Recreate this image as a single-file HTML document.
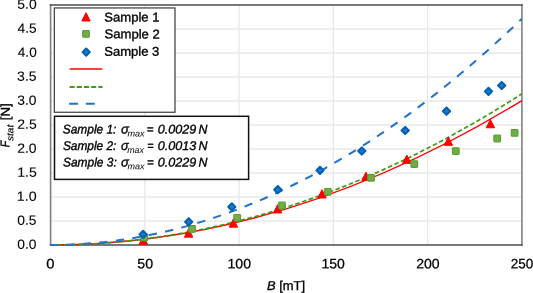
<!DOCTYPE html>
<html><head><meta charset="utf-8"><style>
html,body{margin:0;padding:0;background:#fff;}
body{width:533px;height:293px;overflow:hidden;}
svg{display:block;font-family:"Liberation Sans",sans-serif;will-change:transform;text-rendering:geometricPrecision;}
</style></head><body>
<svg width="533" height="293" viewBox="0 0 533 293">
<rect width="533" height="293" fill="#fff"/>
<g stroke="#e8e8e8" stroke-width="1.3" fill="none">
<line x1="50.6" y1="221.0" x2="521.9" y2="221.0"/>
<line x1="50.6" y1="197.0" x2="521.9" y2="197.0"/>
<line x1="50.6" y1="173.0" x2="521.9" y2="173.0"/>
<line x1="50.6" y1="149.0" x2="521.9" y2="149.0"/>
<line x1="50.6" y1="125.0" x2="521.9" y2="125.0"/>
<line x1="50.6" y1="101.0" x2="521.9" y2="101.0"/>
<line x1="50.6" y1="77.0" x2="521.9" y2="77.0"/>
<line x1="50.6" y1="53.0" x2="521.9" y2="53.0"/>
<line x1="50.6" y1="29.0" x2="521.9" y2="29.0"/>
<line x1="144.86" y1="5.0" x2="144.86" y2="245.0"/>
<line x1="239.12" y1="5.0" x2="239.12" y2="245.0"/>
<line x1="333.38" y1="5.0" x2="333.38" y2="245.0"/>
<line x1="427.64" y1="5.0" x2="427.64" y2="245.0"/>
</g>
<g font-size="13.6" fill="#000" text-anchor="end" stroke="#000" stroke-width="0.1">
<text id="y0" x="36.57" y="248.77" textLength="19.2" lengthAdjust="spacingAndGlyphs" transform="rotate(0.05 36.57 248.77)" font-size="13.35">0.0</text>
<text id="y1" x="36.56" y="224.77" textLength="19.29" lengthAdjust="spacingAndGlyphs" transform="rotate(0.05 36.56 224.77)" font-size="13.35">0.5</text>
<text id="y2" x="36.59" y="200.77" textLength="19.73" lengthAdjust="spacingAndGlyphs" transform="rotate(0.05 36.59 200.77)" font-size="13.35">1.0</text>
<text id="y3" x="36.85" y="176.77" textLength="19.69" lengthAdjust="spacingAndGlyphs" transform="rotate(0.05 36.85 176.77)" font-size="13.35">1.5</text>
<text id="y4" x="36.54" y="152.77" textLength="19.38" lengthAdjust="spacingAndGlyphs" transform="rotate(0.05 36.54 152.77)" font-size="13.35">2.0</text>
<text id="y5" x="36.66" y="128.77" textLength="19.42" lengthAdjust="spacingAndGlyphs" transform="rotate(0.05 36.66 128.77)" font-size="13.35">2.5</text>
<text id="y6" x="36.52" y="104.77" textLength="19.24" lengthAdjust="spacingAndGlyphs" transform="rotate(0.05 36.52 104.77)" font-size="13.35">3.0</text>
<text id="y7" x="36.66" y="80.77" textLength="19.56" lengthAdjust="spacingAndGlyphs" transform="rotate(0.05 36.66 80.77)" font-size="13.35">3.5</text>
<text id="y8" x="36.73" y="56.77" textLength="18.91" lengthAdjust="spacingAndGlyphs" transform="rotate(0.05 36.73 56.77)" font-size="13.35">4.0</text>
<text id="y9" x="36.64" y="32.77" textLength="19.14" lengthAdjust="spacingAndGlyphs" transform="rotate(0.05 36.64 32.77)" font-size="13.35">4.5</text>
<text id="y10" x="36.65" y="8.77" textLength="19.36" lengthAdjust="spacingAndGlyphs" transform="rotate(0.05 36.65 8.77)" font-size="13.35">5.0</text>
</g>
<g font-size="13.6" fill="#000" text-anchor="middle" stroke="#000" stroke-width="0.25">
<text id="x0" x="50.27" y="268.35" textLength="8.22" lengthAdjust="spacingAndGlyphs" transform="rotate(0.05 50.27 268.35)" font-size="13.5">0</text>
<text id="x50" x="145.23" y="268.35" textLength="15.8" lengthAdjust="spacingAndGlyphs" transform="rotate(0.05 145.23 268.35)" font-size="13.5">50</text>
<text id="x100" x="239.24" y="268.35" textLength="23.46" lengthAdjust="spacingAndGlyphs" transform="rotate(0.05 239.24 268.35)" font-size="13.5">100</text>
<text id="x150" x="333.12" y="268.35" textLength="23.37" lengthAdjust="spacingAndGlyphs" transform="rotate(0.05 333.12 268.35)" font-size="13.5">150</text>
<text id="x200" x="427.97" y="268.35" textLength="23.46" lengthAdjust="spacingAndGlyphs" transform="rotate(0.05 427.97 268.35)" font-size="13.5">200</text>
<text id="x250" x="521.90" y="268.35" transform="rotate(0.05 521.90 268.35)" font-size="13.5">250</text>
</g>
<g font-size="12.9" fill="#000" stroke="#000" stroke-width="0.35">
<text id="xt" x="267.0" y="290"><tspan font-style="italic">B</tspan> [mT]</text>
<text id="ytF" transform="translate(9.56,147.14) rotate(-89.95)" font-style="italic" textLength="6.45" lengthAdjust="spacingAndGlyphs">F</text>
<text id="yts" transform="translate(13.35,140.97) rotate(-89.95)" font-style="italic" font-size="9" stroke-width="0.15" textLength="16.19" lengthAdjust="spacingAndGlyphs">stat</text>
<text id="ytN" transform="translate(9.71,120.25) rotate(-89.95)" textLength="16.88" lengthAdjust="spacingAndGlyphs">[N]</text>
</g>
<g fill="none" stroke-width="1.6">
<line x1="50.6" y1="4.2" x2="50.6" y2="245.8" stroke="#7f7f7f"/>
<line x1="521.9" y1="4.2" x2="521.9" y2="245.8" stroke="#7f7f7f"/>
<line x1="49.800000000000004" y1="5.0" x2="522.6999999999999" y2="5.0" stroke="#4d4d4d"/>
<line x1="49.800000000000004" y1="245.0" x2="522.6999999999999" y2="245.0" stroke="#4d4d4d"/>
</g>
<g fill="none" stroke-width="2">
<path d="M50.6,245.0Q286.25,245.0 521.9,100.52" stroke="#ff0000" stroke-width="1.45"/>
<path d="M50.6,245.0Q286.25,245.0 521.9,93.80" stroke="#3f9a14" stroke-width="1.7" stroke-dasharray="4.5 2.63" stroke-dashoffset="0.44"/>
<path d="M50.6,245.0Q286.25,245.0 521.9,18.68" stroke="#2372cd" stroke-width="2.0" stroke-dasharray="8.4 8.28" stroke-dashoffset="1.28"/>
</g>
<g fill="#ff0000" stroke="#ff0000" stroke-width="1" stroke-linejoin="round"><path d="M143.30,236.05L147.50,244.35L139.10,244.35Z"/><path d="M188.60,228.85L192.80,237.15L184.40,237.15Z"/><path d="M233.40,218.85L237.60,227.15L229.20,227.15Z"/><path d="M277.60,204.65L281.80,212.95L273.40,212.95Z"/><path d="M322.00,189.65L326.20,197.95L317.80,197.95Z"/><path d="M366.00,172.15L370.20,180.45L361.80,180.45Z"/><path d="M406.80,155.05L411.00,163.35L402.60,163.35Z"/><path d="M448.40,137.05L452.60,145.35L444.20,145.35Z"/><path d="M490.40,119.45L494.60,127.75L486.20,127.75Z"/></g>
<g fill="#70ad47" stroke="#5a9f35" stroke-width="1.2" stroke-linejoin="round"><rect x="141.00" y="234.20" width="6.60" height="6.60" rx="0.8"/><rect x="188.80" y="225.60" width="6.60" height="6.60" rx="0.8"/><rect x="233.90" y="214.50" width="6.60" height="6.60" rx="0.8"/><rect x="278.70" y="202.20" width="6.60" height="6.60" rx="0.8"/><rect x="324.50" y="188.50" width="6.60" height="6.60" rx="0.8"/><rect x="367.70" y="174.50" width="6.60" height="6.60" rx="0.8"/><rect x="411.00" y="160.80" width="6.60" height="6.60" rx="0.8"/><rect x="452.50" y="147.80" width="6.60" height="6.60" rx="0.8"/><rect x="493.90" y="135.20" width="6.60" height="6.60" rx="0.8"/><rect x="511.30" y="129.60" width="6.60" height="6.60" rx="0.8"/></g>
<g fill="#1d7acb" stroke="#0060b4" stroke-width="2.0" stroke-linejoin="round"><path d="M143.10,230.75L146.75,234.40L143.10,238.05L139.45,234.40Z"/><path d="M188.70,218.25L192.35,221.90L188.70,225.55L185.05,221.90Z"/><path d="M231.80,203.25L235.45,206.90L231.80,210.55L228.15,206.90Z"/><path d="M277.80,186.05L281.45,189.70L277.80,193.35L274.15,189.70Z"/><path d="M320.00,166.75L323.65,170.40L320.00,174.05L316.35,170.40Z"/><path d="M361.80,147.35L365.45,151.00L361.80,154.65L358.15,151.00Z"/><path d="M405.20,126.85L408.85,130.50L405.20,134.15L401.55,130.50Z"/><path d="M446.50,107.55L450.15,111.20L446.50,114.85L442.85,111.20Z"/><path d="M488.50,87.75L492.15,91.40L488.50,95.05L484.85,91.40Z"/><path d="M501.70,81.85L505.35,85.50L501.70,89.15L498.05,85.50Z"/></g>
<rect x="54.3" y="7.95" width="120.7" height="104.3" fill="#fff" stroke="#333" stroke-width="1.15"/>
<g transform="translate(86,16.85) scale(1.0) translate(-86,-16.85)"><path d="M86.00,12.70L90.20,21.00L81.80,21.00Z" fill="#ff0000" stroke="#ff0000" stroke-width="1" stroke-linejoin="round"/></g>
<g transform="translate(86,33.95) scale(1.0) translate(-86,-33.95)"><rect x="82.70" y="30.65" width="6.60" height="6.60" rx="0.8" fill="#70ad47" stroke="#5a9f35" stroke-width="1.2" stroke-linejoin="round"/></g>
<path d="M86.20,48.45L89.85,52.10L86.20,55.75L82.55,52.10Z" fill="#1d7acb" stroke="#0060b4" stroke-width="2.0" stroke-linejoin="round"/>
<g font-size="12.8" fill="#000" stroke="#000" stroke-width="0.35">
<text id="l1" x="104.34" y="21.44" textLength="55.15" lengthAdjust="spacingAndGlyphs" transform="rotate(0.05 104.34 21.44)">Sample 1</text>
<text id="l2" x="104.49" y="38.37" textLength="55.32" lengthAdjust="spacingAndGlyphs" transform="rotate(0.05 104.49 38.37)">Sample 2</text>
<text id="l3" x="104.24" y="55.78" textLength="55.11" lengthAdjust="spacingAndGlyphs" transform="rotate(0.05 104.24 55.78)">Sample 3</text>
</g>
<g stroke-width="2" fill="none">
<line x1="69.7" y1="69.1" x2="102.3" y2="69.1" stroke="#ff0000" stroke-width="1.5"/>
<line x1="69.6" y1="87" x2="102.5" y2="87" stroke="#3f9a14" stroke-dasharray="5 2.2"/>
<line x1="69.1" y1="103.7" x2="102.5" y2="103.7" stroke="#2372cd" stroke-dasharray="9 7.7"/>
</g>
<rect x="54.5" y="116.3" width="194.1" height="63.1" fill="#fff" stroke="#111" stroke-width="1.5"/>
<g font-size="12.6" font-style="italic" fill="#000" stroke="#000" stroke-width="0.35">
<text id="bs0" x="62.80" y="133.55" textLength="53.58" lengthAdjust="spacingAndGlyphs" transform="rotate(0.05 62.80 133.55)">Sample 1:</text>
<text id="bg0" x="120.90" y="133.55" textLength="7.87" lengthAdjust="spacingAndGlyphs" transform="rotate(0.05 120.90 133.55)" font-style="italic" font-weight="normal" font-size="13.5">σ</text>
<text id="bm0" x="127.48" y="136.45" textLength="17.16" lengthAdjust="spacingAndGlyphs" transform="rotate(0.05 127.48 136.45)" font-size="8.9" stroke-width="0">max</text>
<text id="be0" x="146.83" y="133.55" textLength="6.75" lengthAdjust="spacingAndGlyphs" transform="rotate(0.05 146.83 133.55)">=</text>
<text id="bv0" x="157.69" y="133.55" textLength="38.46" lengthAdjust="spacingAndGlyphs" transform="rotate(0.05 157.69 133.55)">0.0029</text>
<text id="bn0" x="198.51" y="133.55" textLength="8.94" lengthAdjust="spacingAndGlyphs" transform="rotate(0.05 198.51 133.55)">N</text>
<text id="bs1" x="62.91" y="150.05" textLength="53.52" lengthAdjust="spacingAndGlyphs" transform="rotate(0.05 62.91 150.05)">Sample 2:</text>
<text id="bg1" x="120.92" y="150.05" textLength="7.61" lengthAdjust="spacingAndGlyphs" transform="rotate(0.05 120.92 150.05)" font-style="italic" font-weight="normal" font-size="13.5">σ</text>
<text id="bm1" x="127.32" y="152.95" textLength="16.57" lengthAdjust="spacingAndGlyphs" transform="rotate(0.05 127.32 152.95)" font-size="8.9" stroke-width="0">max</text>
<text id="be1" x="147.36" y="150.05" textLength="6.31" lengthAdjust="spacingAndGlyphs" transform="rotate(0.05 147.36 150.05)">=</text>
<text id="bv1" x="157.74" y="150.05" textLength="38.47" lengthAdjust="spacingAndGlyphs" transform="rotate(0.05 157.74 150.05)">0.0013</text>
<text id="bn1" x="198.60" y="150.05" textLength="8.99" lengthAdjust="spacingAndGlyphs" transform="rotate(0.05 198.60 150.05)">N</text>
<text id="bs2" x="63.02" y="166.45" textLength="53.75" lengthAdjust="spacingAndGlyphs" transform="rotate(0.05 63.02 166.45)">Sample 3:</text>
<text id="bg2" x="120.98" y="166.45" textLength="7.85" lengthAdjust="spacingAndGlyphs" transform="rotate(0.05 120.98 166.45)" font-style="italic" font-weight="normal" font-size="13.5">σ</text>
<text id="bm2" x="127.47" y="169.35" textLength="17.03" lengthAdjust="spacingAndGlyphs" transform="rotate(0.05 127.47 169.35)" font-size="8.9" stroke-width="0">max</text>
<text id="be2" x="146.93" y="166.45" textLength="6.77" lengthAdjust="spacingAndGlyphs" transform="rotate(0.05 146.93 166.45)">=</text>
<text id="bv2" x="157.68" y="166.45" textLength="38.46" lengthAdjust="spacingAndGlyphs" transform="rotate(0.05 157.68 166.45)">0.0229</text>
<text id="bn2" x="198.46" y="166.45" textLength="8.94" lengthAdjust="spacingAndGlyphs" transform="rotate(0.05 198.46 166.45)">N</text>
</g>
</svg>
</body></html>
